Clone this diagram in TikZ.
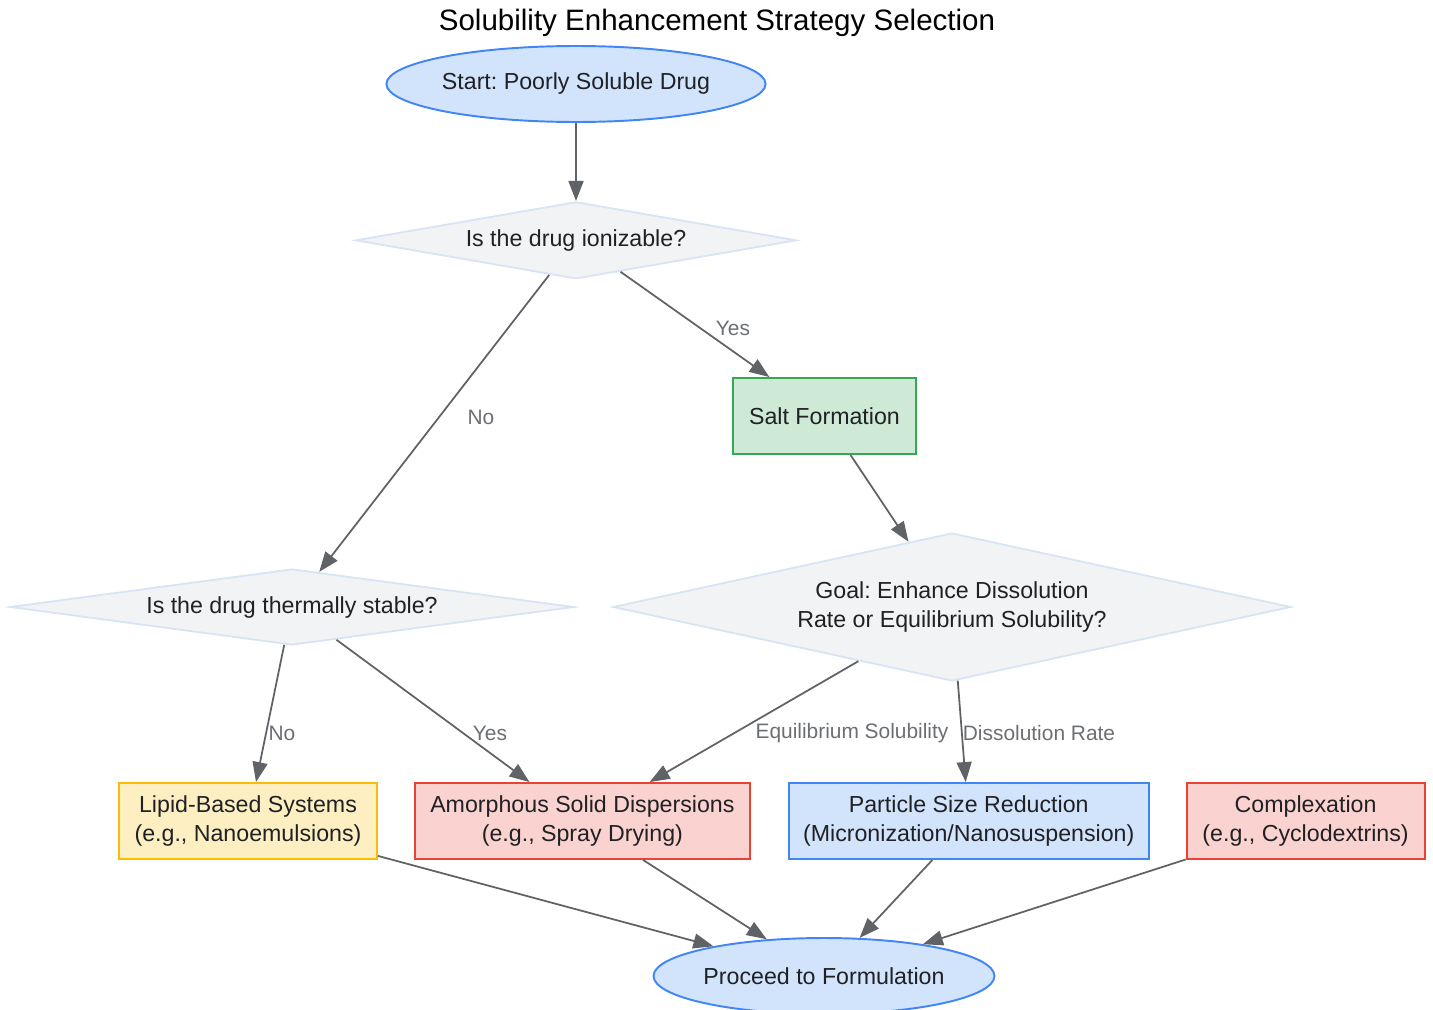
\documentclass[tikz,border=0pt]{standalone}
\usepackage{fontspec}
\setmainfont{Liberation Sans}
\usepackage{tikz}
\usetikzlibrary{arrows.meta, positioning, shapes.geometric}
\usepackage{xcolor}
\frenchspacing

\definecolor{bluefill}{HTML}{D2E3FC}
\definecolor{bluedraw}{HTML}{4285F4}
\definecolor{grayfill}{HTML}{F1F3F4}
\definecolor{graydraw}{HTML}{D6E4F5}
\definecolor{greenfill}{HTML}{CEEAD6}
\definecolor{greendraw}{HTML}{34A853}
\definecolor{yellowfill}{HTML}{FEEFC3}
\definecolor{yellowdraw}{HTML}{FBBC04}
\definecolor{redfill}{HTML}{FAD2CF}
\definecolor{reddraw}{HTML}{EA4335}
\definecolor{edgegray}{HTML}{5F6368}
\definecolor{labelgray}{HTML}{6B6E72}
\definecolor{textdark}{HTML}{202124}

\begin{document}
\begin{tikzpicture}[
    x=0.02cm, y=-0.02cm,
    nodefont/.style={font=\fontsize{13.2}{16.4}\selectfont, text=textdark, align=center},
    box/.style={rectangle, draw, line width=1.1pt, nodefont, inner sep=0pt, minimum height=1.52cm},
    terminal/.style={ellipse, draw=bluedraw, fill=bluefill, line width=1.1pt, nodefont, inner sep=0pt, minimum height=1.52cm},
    decision/.style={diamond, draw=graydraw, fill=grayfill, line width=1pt, nodefont, inner sep=0pt},
    bluebox/.style={box, draw=bluedraw, fill=bluefill},
    greenbox/.style={box, draw=greendraw, fill=greenfill},
    yellowbox/.style={box, draw=yellowdraw, fill=yellowfill},
    redbox/.style={box, draw=reddraw, fill=redfill},
    lbl/.style={font=\fontsize{11.9}{14}\selectfont, text=labelgray},
    link/.style={draw=edgegray, line width=1pt, -{Triangle[length=0.4cm, width=0.3cm]}},
]
\useasboundingbox (0,0) rectangle (1433,1010);

% Title
\node[font=\fontsize{16.8}{20}\selectfont, text=black] (title) at (717,23) {Solubility Enhancement Strategy Selection};

% Top part
\node[terminal, minimum width=7.52cm] (start) at (576,84) {Start: Poorly Soluble Drug};
\node[decision, aspect=5.7, minimum width=8.82cm, minimum height=1.54cm, below=1.56cm of start] (ionize) {Is the drug ionizable?};
\node[greenbox, minimum width=3.66cm] (salt) at (824.5,416) {Salt Formation};

% Middle decisions
\node[decision, aspect=7.4, minimum width=11.28cm, minimum height=1.52cm] (thermal) at (292,607) {Is the drug thermally stable?};
\node[decision, aspect=4.6, minimum width=13.56cm, minimum height=2.96cm] (goal) at (952,607) {Goal: Enhance Dissolution\\Rate or Equilibrium Solubility?};

% Strategies
\node[yellowbox, minimum width=5.16cm] (lipid) at (248,821) {Lipid-Based Systems\\(e.g., Nanoemulsions)};
\node[redbox, minimum width=6.70cm, right=0.72cm of lipid] (asd) {Amorphous Solid Dispersions\\(e.g., Spray Drying)};
\node[bluebox, minimum width=7.20cm, right=0.74cm of asd] (psr) {Particle Size Reduction\\(Micronization/Nanosuspension)};
\node[redbox, minimum width=4.76cm, right=0.72cm of psr] (complex) {Complexation\\(e.g., Cyclodextrins)};

\node[terminal, minimum width=6.80cm] (proceed) at (824,976) {Proceed to Formulation};

% Arrows
\draw[link] (start) -- (ionize);
\draw[link] (ionize) -- (salt);
\draw[link] (ionize) -- (thermal);
\draw[link] (salt) -- (goal);
\draw[link] (thermal) -- (lipid);
\draw[link] (thermal) -- (asd);
\draw[link] (goal) -- (asd);
\draw[link] (goal) -- (psr);

\draw[link] (lipid) -- (proceed);
\draw[link] (asd) -- (proceed);
\draw[link] (psr) -- (proceed);
\draw[link] (complex) -- (proceed);

% Edge labels
\node[lbl] (yes1) at (733,328) {Yes};
\node[lbl] (no1) at (481,417) {No};
\node[lbl] (no2) at (282,733) {No};
\node[lbl] (yes2) at (490,733) {Yes};
\node[lbl] (eqsol) at (852,733) {Equilibrium Solubility};
\node[lbl] (dissrate) at (1039,733) {Dissolution Rate};

\end{tikzpicture}
\end{document}
